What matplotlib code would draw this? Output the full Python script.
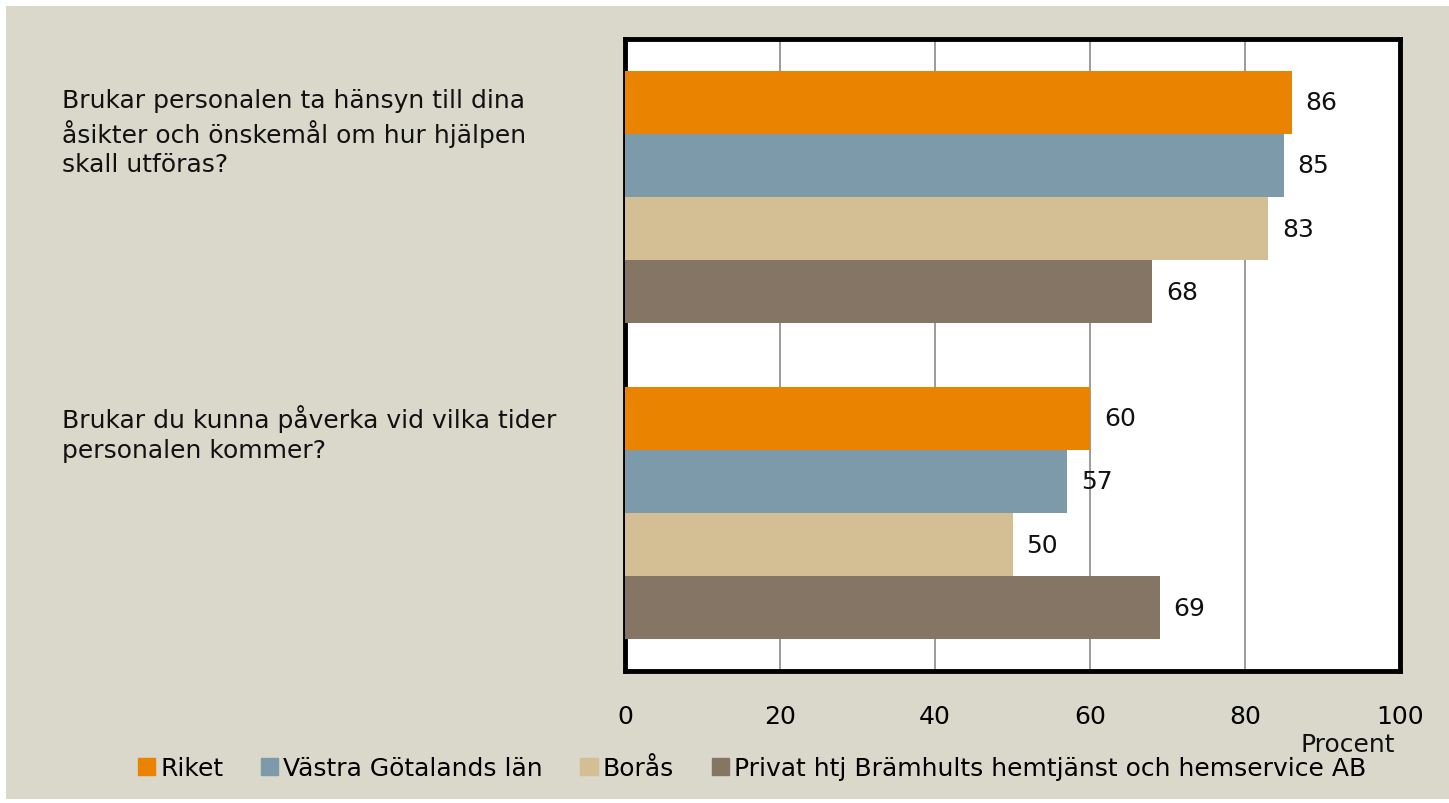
import matplotlib
matplotlib.use("Agg")
import matplotlib.pyplot as plt
import matplotlib.patches as mpatches
import matplotlib.transforms as mtransforms
import numpy as np

plt.rcParams['font.family'] = ['DejaVu Sans']

# data
questions = [
    "Brukar personalen ta hänsyn till dina\nåsikter och önskemål om hur hjälpen\nskall utföras?",
    "Brukar du kunna påverka vid vilka tider\npersonalen kommer?",
]
series = ["Riket", "Västra Götalands län", "Borås",
          "Privat htj Brämhults hemtjänst och hemservice AB"]
riket = [86, 60]
vastra_gotaland = [85, 57]
boras = [83, 50]
bramhult = [68, 69]
xticks = [0, 20, 40, 60, 80, 100]

colors = ['#E98300', '#7D9AAB', '#D4BF95', '#857564']
bg = '#DAD8CB'
fs = 18

fig = plt.figure(figsize=(14.49, 8.04), dpi=100, facecolor='white')
# beige panel behind everything
fig.patches.append(mpatches.Rectangle((6 / 1449, 0.005), 1.0, 0.99 - 0.005 + 0.0013,
                                      transform=fig.transFigure, facecolor=bg,
                                      edgecolor='none', zorder=-10))

ax = fig.add_axes([625 / 1449, 1 - 672 / 804, 775 / 1449, 632 / 804])
ax.set_facecolor('white')

vals = [riket, vastra_gotaland, boras, bramhult]
ypos = np.arange(len(questions))
h = 0.2
for i, (name, v, c) in enumerate(zip(series, vals, colors)):
    y = ypos - 0.3 + i * h
    bars = ax.barh(y, v, height=h, color=c, label=name, zorder=3)
    for b, val in zip(bars, v):
        ax.annotate(str(val), (val, b.get_y() + b.get_height() / 2),
                    xytext=(10, 0), textcoords='offset points',
                    ha='left', va='center', fontsize=fs, color='#111111')

ax.set_xlim(0, 100)
ax.set_ylim(1.5, -0.5)
ax.set_xticks(xticks)
ax.set_xticklabels([str(t) for t in xticks], fontsize=fs)
ax.tick_params(axis='x', length=0, pad=24)
ax.set_yticks([])
ax.grid(axis='x', color='#8a8a8a', linewidth=1.2, zorder=0)
ax.set_axisbelow(True)
for s in ax.spines.values():
    s.set_linewidth(3.5)
    s.set_color('black')

# question labels on the left
trans = mtransforms.blended_transform_factory(fig.transFigure, ax.transData)
for y, q in zip(ypos, questions):
    fig.text(62 / 1449, y - 0.345, q, transform=trans, ha='left', va='top',
             fontsize=fs, linespacing=1.3, color='#111111')

fig.text(1395 / 1449, 1 - 745 / 804, "Procent", ha='right', va='center',
         fontsize=fs, color='#111111')

handles = [mpatches.Patch(color=c, label=s) for c, s in zip(colors, series)]
fig.legend(handles=handles, loc='center', bbox_to_anchor=(752 / 1449, 1 - 769 / 804),
           ncol=4, frameon=False, fontsize=fs, handlelength=0.7, handleheight=0.7,
           handletextpad=0.2, columnspacing=1.5)

fig.savefig("out.png", dpi=100, facecolor=fig.get_facecolor())
